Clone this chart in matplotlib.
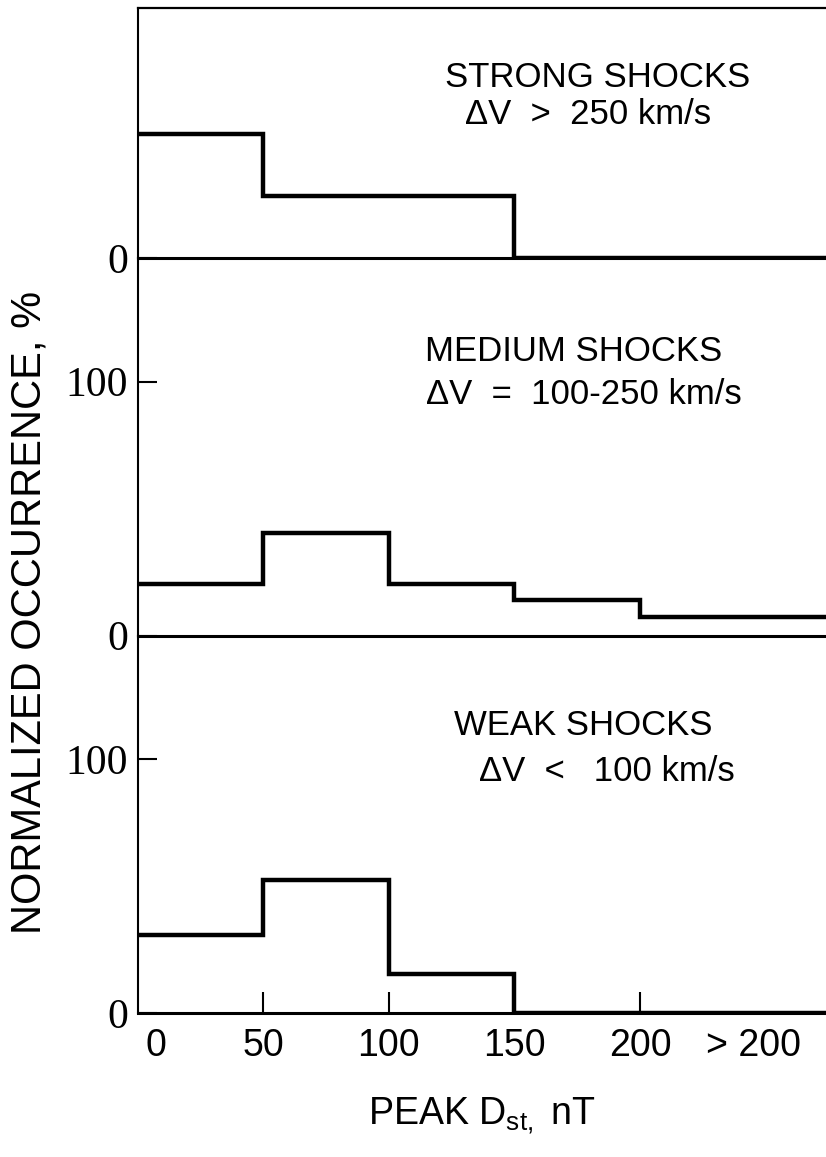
"""
plot.py - normalized occurrence of peak Dst for strong / medium / weak shocks.
"""

import matplotlib
matplotlib.use("Agg")
import matplotlib.pyplot as plt


# ── Data ──────────────────────────────────────────────────────────────────────

bin_edges = [0, 50, 100, 150, 200, 274]          # last bin is ">200"
strong = [49, 24.5, 24.5, 0, 0]
medium = [20.5, 40.5, 20.5, 14, 7.5]
weak = [30.5, 52.5, 15.5, 0, 0]

panel_titles = ["STRONG SHOCKS", "MEDIUM SHOCKS", "WEAK SHOCKS"]
panel_subtitles = ["ΔV  >  250 km/s", "ΔV  =  100-250 km/s", "ΔV  <   100 km/s"]

xtick_marks = [50, 100, 150, 200]
xtick_mark_labels = ["50", "100", "150", "200"]
xtick_extra = [7.5, 245]
xtick_extra_labels = ["0", "> 200"]


# ── Figure ────────────────────────────────────────────────────────────────────

SANS = ["Liberation Sans", "DejaVu Sans"]
SERIF = ["Liberation Serif", "DejaVu Serif"]
plt.rcParams["font.family"] = SANS
plt.rcParams["mathtext.fontset"] = "custom"
plt.rcParams["mathtext.rm"] = "Liberation Sans"

fig = plt.figure(figsize=(8.26, 11.57), dpi=100)
gs = fig.add_gridspec(3, 1, height_ratios=[98.5, 148.5, 148.5], hspace=0,
                      left=0.1665, right=1.0, top=0.993, bottom=0.1245)
axes = [fig.add_subplot(gs[i]) for i in range(3)]

series = [strong, medium, weak]
ylims = [98.5, 148.5, 148.5]
title_xy = [(183, 71), (173.5, 112), (177.5, 113)]
sub_xy = [(179.5, 56.5), (177.5, 95.0), (186.7, 95.0)]

for i, ax in enumerate(axes):
    ax.patch.set_visible(False)
    vals = series[i]
    ax.step(bin_edges, vals + [vals[-1]], where="post", color="black",
            linewidth=3.2, solid_joinstyle="miter")
    ax.set_xlim(bin_edges[0], bin_edges[-1])
    ax.set_ylim(0, ylims[i])

    ax.spines["right"].set_visible(False)
    ax.spines["top"].set_visible(i == 0)
    ax.spines["top"].set_linewidth(1.6)
    ax.spines["left"].set_linewidth(1.5)
    ax.spines["bottom"].set_linewidth(2.2)

    ax.set_yticks([0] if i == 0 else [0, 100])
    ax.tick_params(axis="y", direction="in", length=14, width=1.5,
                   labelsize=30, pad=7)
    for lab in ax.get_yticklabels():
        lab.set_family(SERIF)

    ax.text(*title_xy[i], panel_titles[i], ha="center", va="center",
            fontsize=25)
    ax.text(*sub_xy[i], panel_subtitles[i], ha="center", va="center",
            fontsize=25)

    if i < 2:
        ax.set_xticks([])
    else:
        ax.set_xticks(xtick_marks)
        ax.set_xticklabels(xtick_mark_labels)
        ax.set_xticks(xtick_extra, minor=True)
        ax.set_xticklabels(xtick_extra_labels, minor=True)
        ax.tick_params(axis="x", which="major", direction="in", length=15,
                       width=1.5, labelsize=27, pad=11)
        ax.tick_params(axis="x", which="minor", length=0, labelsize=27,
                       pad=11)

axes[2].set_xlabel(r"PEAK D$_{\mathregular{st,}}$ nT", fontsize=27,
                   labelpad=22)

fig.text(30 / 826, 1 - 612 / 1157, "NORMALIZED OCCURRENCE, %", rotation=90,
         ha="center", va="center", fontsize=30)

fig.savefig("out.png", dpi=100)
